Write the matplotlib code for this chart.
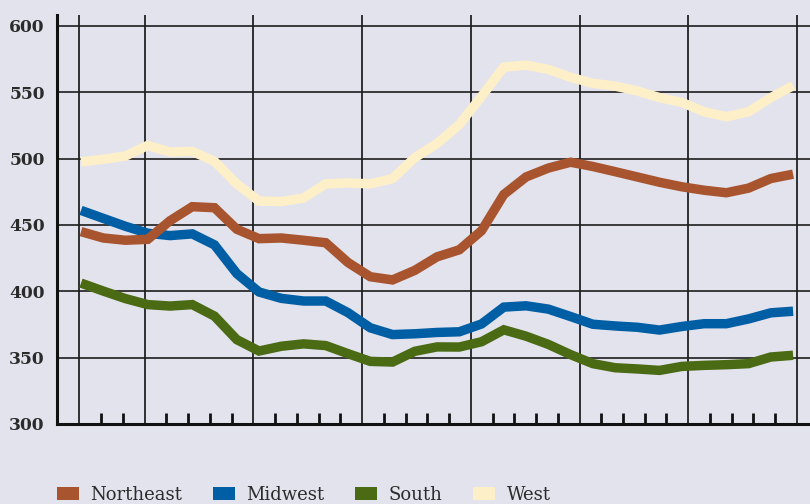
import matplotlib
matplotlib.use("Agg")
import matplotlib.pyplot as plt
from matplotlib.patches import Patch
import numpy as np

# ---- data ----
regions = ["Northeast", "Midwest", "South", "West"]
northeast = [445, 440.2, 438.5, 439.2, 453.2, 463.8, 463, 446.8, 439.7, 440.2, 438.5,
             436.6, 421.7, 411, 408.6, 415.8, 426, 431.3, 445.7, 473, 486.2, 492.9,
             497.3, 494.1, 490.2, 486.2, 482.2, 478.8, 476.2, 474.3, 477.8, 485, 488.3]
midwest = [461, 455, 449, 443.8, 442, 443.3, 435, 413.4, 399.5, 394.7, 392.7, 392.7,
           383.9, 372.5, 367.4, 368, 369, 369.5, 375.4, 388.1, 389.1, 386.6, 381,
           375.2, 373.9, 372.9, 370.8, 373.5, 375.6, 375.6, 379.2, 383.8, 385]
south = [406.2, 400.2, 394.5, 390, 388.9, 390, 381.3, 363.6, 355, 358.6, 360.4, 359.1,
         353, 347.2, 346.7, 354.8, 358.1, 358, 362, 371, 366.2, 360, 352.3, 345.5,
         342.4, 341.5, 340.4, 343.4, 344.2, 344.7, 345.5, 350.5, 351.8]
west = [497.6, 499.5, 502, 510, 505, 505.5, 498, 481, 468, 467.7, 470.3, 481, 481.7,
        481, 485, 500.7, 511.4, 525.7, 547, 569, 570.5, 567.3, 561.3, 556.8, 554.7,
        551, 546, 542.4, 535.3, 531.6, 535.3, 546, 555]
y_ticks = [300, 350, 400, 450, 500, 550, 600]

colors = {"Northeast": "#a8552f", "Midwest": "#005ea4", "South": "#4a6a14", "West": "#fdf0c9"}
bg = "#e3e3ee"
series = {"Northeast": northeast, "Midwest": midwest, "South": south, "West": west}

fig = plt.figure(figsize=(8.1, 5.04), dpi=100, facecolor=bg)
ax = fig.add_axes([57.3 / 810, (504 - 424) / 504, 1 - 57.3 / 810, (424 - 14.7) / 504])
ax.set_facecolor(bg)

x = np.arange(len(west))
ax.set_xlim(-1.065, 32.76)
ax.set_ylim(300, 608.5)

# grid lines (vertical majors + horizontals)
m0, step = 2.863, 0.977
tick_pos = [m0 + k * step for k in range(-3, 31)]
major = [p for k, p in zip(range(-3, 31), tick_pos) if k % 5 == 0 or k == -3]
minor = [p for k, p in zip(range(-3, 31), tick_pos) if not (k % 5 == 0 or k == -3)]
for p in major:
    ax.axvline(p, color="#111111", lw=1.2, zorder=1)
for v in y_ticks[1:]:
    ax.axhline(v, color="#1e1e1e", lw=1.2, zorder=1)

# series (Northeast drawn last, on top)
for name in reversed(regions):
    ax.plot(x, series[name], color=colors[name], lw=6.8, solid_joinstyle="miter",
            solid_capstyle="butt", zorder=3)

ax.set_yticks(y_ticks)
ax.set_yticklabels([str(v) for v in y_ticks], fontfamily="DejaVu Serif",
                   fontweight="bold", fontsize=12.3, color="#2b2b2b")
ax.tick_params(axis="y", length=0, pad=9)
ax.set_xticks(minor)
ax.set_xticklabels([])
ax.tick_params(axis="x", direction="in", length=8, width=2, color="#111111")

for s in ["top", "right"]:
    ax.spines[s].set_visible(False)
ax.spines["left"].set_linewidth(2.2)
ax.spines["bottom"].set_linewidth(2.2)
ax.spines["left"].set_color("#111111")
ax.spines["bottom"].set_color("#111111")

handles = [Patch(facecolor=colors[n], edgecolor="none", label=n) for n in regions]
fig.legend(handles=handles, loc="center left", bbox_to_anchor=(57 / 810, 9 / 504),
           ncol=4, frameon=False, borderpad=0, borderaxespad=0,
           handlelength=1.2, handleheight=0.75, handletextpad=0.65, columnspacing=1.7,
           prop={"family": "DejaVu Serif", "size": 13}, labelcolor="#2b2b2b")

fig.savefig("out.png", dpi=100, facecolor=bg)
